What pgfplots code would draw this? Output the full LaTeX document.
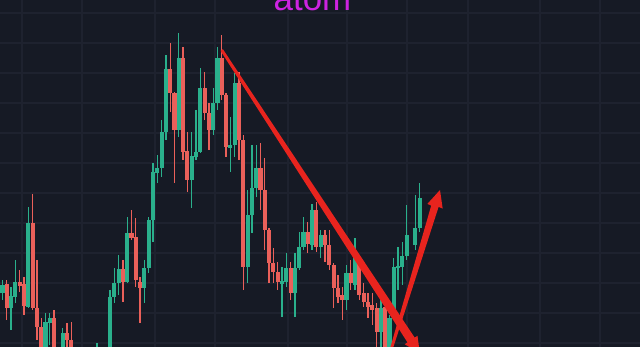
\documentclass[border=0pt]{standalone}
\usepackage{pgfplots}
\usepackage{pgfplotstable}
\usepackage{fontspec}
\setmainfont{Liberation Sans}
\pgfplotsset{compat=1.18}

\definecolor{bg}{RGB}{22,26,37}
\definecolor{gridc}{RGB}{30,34,47}
\definecolor{upc}{RGB}{42,176,140}
\definecolor{downc}{RGB}{234,96,90}
\definecolor{arrowred}{RGB}{232,36,30}
\definecolor{titlec}{RGB}{205,35,225}

% rising candles: x, open, high, low, close
\pgfplotstableread{
x o h l c
2.5 54 67 47 62
11.1 39 60 17 51
15.4 50 87 44 65
28.3 40 140 39 124
45.5 -8 34 -13 25
49.8 24 34 2 29
62.7 -8 19 -13 14
79.9 -20 -5 -25 -12
88.5 -25 -10 -28 -15
97.1 -22 4 -25 -10
105.7 -18 -2 -20 -5
110 -8 57 -13 50
114.3 50 79 44 64
118.6 64 92 52 78
127.2 65 130 64 114
144.4 59 87 44 79
148.7 79 130 74 127
153 127 184 105 175
157.3 174 192 164 179
161.6 179 227 170 215
165.9 215 292 207 278
178.8 217 314 210 289
191.7 167 215 139 191
196 190 237 187 195
200.3 195 279 194 259
213.2 217 259 212 244
217.5 244 300 237 289
230.4 199 230 175 202
234.7 202 274 190 264
247.6 80 157 64 132
251.9 132 202 114 159
256.2 159 202 150 179
282 63 80 30 66
286.3 65 94 60 79
294.9 54 94 30 79
299.2 79 115 77 100
303.5 100 130 97 115
312.1 102 143 97 137
320.7 100 117 89 112
346.5 47 82 37 74
355.1 62 109 57 89
380.9 15 50 -5 39
389.5 -8 32 -13 29
393.8 29 89 27 80
398.1 79 100 57 81
402.4 80 105 62 91
406.7 91 142 87 112
415.3 102 152 97 119
419.6 119 164 115 149
}\upcandles

% falling candles: x, open, high, low, close
\pgfplotstableread{
x o h l c
-1.8 105 107 57 64
6.8 63 67 27 39
19.7 65 77 55 61
24.0 63 70 32 41
32.6 124 153 37 39
36.9 39 87 7 20
41.2 20 29 -13 -8
54.1 29 37 -13 -8
58.4 -8 -2 -25 -20
67.0 14 24 -3 7
71.3 7 25 -13 -8
75.6 -8 -3 -26 -20
84.2 -12 -8 -30 -25
92.8 -15 -6 -27 -22
101.4 -10 -4 -24 -18
122.9 78 87 45 65
131.5 114 137 107 109
135.8 110 129 60 67
140.1 65 70 24 59
170.2 278 304 235 254
174.5 254 255 164 217
183.1 289 300 187 195
187.4 196 215 155 167
204.6 259 275 227 234
208.9 234 244 197 217
221.8 289 312 247 252
226.1 252 254 190 200
239 264 275 187 207
243.3 207 212 57 80
260.5 179 204 137 157
264.8 157 189 97 117
269.1 117 119 64 84
273.4 84 99 64 75
277.7 75 85 57 65
290.6 79 85 47 54
307.8 115 125 94 103
316.4 137 145 95 100
325 112 117 85 102
329.3 102 117 77 82
333.6 82 84 39 59
337.9 59 72 44 50
342.2 52 60 27 47
350.8 74 87 57 64
359.4 89 92 47 52
363.7 54 64 40 45
368 45 54 29 40
372.3 42 54 22 37
376.6 39 44 -3 15
385.2 40 45 -13 -8
}\downcandles

\pgfplotsset{
  wick/.style={draw=none, mark=none,
    error bars/.cd, y dir=plus, y explicit, error mark=none,
    error bar style={draw=#1, line width=0.65pt}},
  body/.style={draw=none, mark=none,
    error bars/.cd, y dir=plus, y explicit, error mark=none,
    error bar style={draw=#1, line width=2.2pt, line cap=butt}},
}

\begin{document}
\begin{tikzpicture}
\path[use as bounding box] (0,0) rectangle (12cm,6.50625cm);
\clip (0,0) rectangle (12cm,6.50625cm);
\fill[bg] (0,0) rectangle (12cm,6.50625cm);
\begin{axis}[
  at={(0,0)}, anchor=south west,
  scale only axis, width=12cm, height=6.50625cm,
  xmin=0, xmax=640, ymin=0, ymax=347,
  hide axis,
  clip=true,
]
% grid
\foreach \gx in {22,82,155,215,288,347,407,468,540,600}
  {\edef\tmp{\noexpand\draw[gridc, line width=0.55pt] (axis cs:\gx,-10) -- (axis cs:\gx,360);}\tmp}
\foreach \gy in {4,34,64,94,124,154,184,214,244,274,304,334}
  {\edef\tmp{\noexpand\draw[gridc, line width=0.55pt] (axis cs:-10,\gy) -- (axis cs:650,\gy);}\tmp}

% wicks
\addplot[wick=upc] table[x=x, y=l, y error expr=\thisrow{h}-\thisrow{l}] {\upcandles};
\addplot[wick=downc] table[x=x, y=l, y error expr=\thisrow{h}-\thisrow{l}] {\downcandles};
% bodies
\addplot[body=upc] table[x=x, y=o, y error expr=\thisrow{c}-\thisrow{o}] {\upcandles};
\addplot[body=downc] table[x=x, y=c, y error expr=\thisrow{o}-\thisrow{c}] {\downcandles};

% falling trend line, widening towards its arrow head
\addplot[fill=arrowred, draw=none] coordinates {
  (222.9,297.8) (414.7,9.4) (417.5,11.2) (419.9,-6.4)
  (404.7,2.8) (407.5,4.6) (220.5,296.2)} --cycle;
% breakout arrow
\addplot[fill=arrowred, draw=none] coordinates {
  (391.8,-5.0) (438.6,140.1) (442.7,138.4) (440,157)
  (427.4,143.1) (431.2,141.4) (389.2,-4.4)} --cycle;

\node[text=titlec, font=\fontsize{18.6}{20}\selectfont, anchor=base]
  at (axis cs:312.5,336) {atom};
\end{axis}
\end{tikzpicture}
\end{document}
